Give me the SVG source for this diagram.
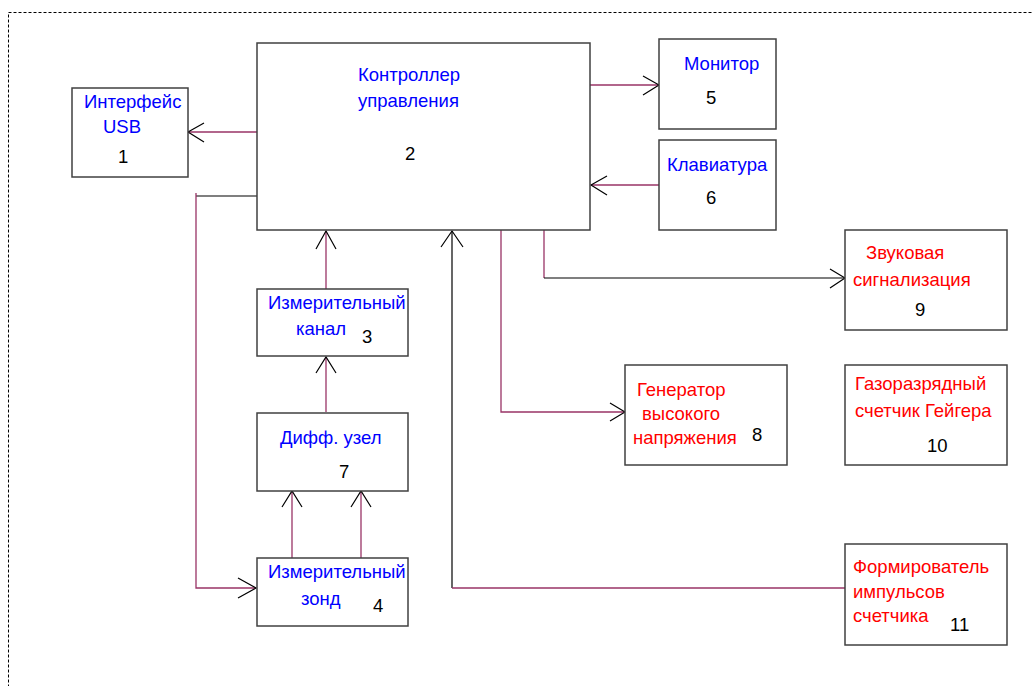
<svg xmlns="http://www.w3.org/2000/svg" width="1033" height="686" viewBox="0 0 1033 686">
<style>
.box{fill:#fff;stroke:#404040;stroke-width:1.5}
.t{font-family:"Liberation Sans",Arial,sans-serif;font-size:18.5px}
.b{fill:#0000ff}
.r{fill:#ff0000}
.n{fill:#000}
.w{fill:none;stroke:#993366;stroke-width:1.3}
.k{fill:none;stroke:#000;stroke-width:1.2}
.ah{fill:none;stroke:#000;stroke-width:1.2}
</style>
<rect x="8.5" y="12.5" width="1040" height="690" fill="none" stroke="#000" stroke-width="1" stroke-dasharray="3,2"/>
<g id="connectors">
  <path class="w" d="M257 132 H188"/><path class="ah" d="M204 123 L188 132 L204 142"/>
  <path class="k" d="M196 196 H261"/>
  <path class="w" d="M196 193 V588 H256"/><path class="ah" d="M238 578 L256 588 L238 598"/>
  <path class="w" d="M326 289 V231"/><path class="ah" d="M316 249 L326 231 L336 249"/>
  <path class="w" d="M326 412 V357"/><path class="ah" d="M316 373 L326 357 L336 373"/>
  <path class="w" d="M292 558 V491"/><path class="ah" d="M282 507 L292 491 L302 507"/>
  <path class="w" d="M361 558 V491"/><path class="ah" d="M351 507 L361 491 L371 507"/>
  <path class="k" d="M452 588 V231"/><path class="ah" d="M441 247 L452 231 L463 247"/>
  <path class="w" d="M452 588 H845"/>
  <path class="w" d="M501 230 V412 H624"/><path class="ah" d="M610 403 L625 412 L610 421"/>
  <path class="w" d="M544 230 V278"/><path class="k" d="M544 278 H844"/><path class="ah" d="M830 269 L845 278 L830 288"/>
  <path class="w" d="M590 85 H658"/><path class="ah" d="M643 76 L659 85 L643 95"/>
  <path class="w" d="M659 185 H591"/><path class="ah" d="M607 176 L591 185 L607 195"/>
</g>
<g id="n1"><rect class="box" x="72" y="88" width="116" height="89"/>
<text class="t b" x="84" y="108">Интерфейс</text><text class="t b" x="103" y="133">USB</text><text class="t n" x="118" y="163">1</text></g>
<g id="n2"><rect class="box" x="257" y="43" width="333" height="187"/>
<text class="t b" x="358" y="81">Контроллер</text><text class="t b" x="358" y="107">управления</text><text class="t n" x="405" y="160">2</text></g>
<g id="n5"><rect class="box" x="659" y="39" width="117" height="90"/>
<text class="t b" x="684" y="70">Монитор</text><text class="t n" x="706" y="104">5</text></g>
<g id="n6"><rect class="box" x="659" y="140" width="117" height="90"/>
<text class="t b" x="667" y="171">Клавиатура</text><text class="t n" x="706" y="204">6</text></g>
<g id="n3"><rect class="box" x="257" y="289" width="151" height="67"/>
<text class="t b" x="268" y="309">Измерительный</text><text class="t b" x="296" y="335">канал</text><text class="t n" x="362" y="343">3</text></g>
<g id="n7"><rect class="box" x="257" y="413" width="151" height="78"/>
<text class="t b" x="280" y="444">Дифф. узел</text><text class="t n" x="339" y="478">7</text></g>
<g id="n4"><rect class="box" x="257" y="558" width="151" height="68"/>
<text class="t b" x="268" y="578">Измерительный</text><text class="t b" x="301" y="605">зонд</text><text class="t n" x="373" y="612">4</text></g>
<g id="n9"><rect class="box" x="845" y="230" width="162" height="100"/>
<text class="t r" x="866" y="259">Звуковая</text><text class="t r" x="853" y="286">сигнализация</text><text class="t n" x="915" y="316">9</text></g>
<g id="n8"><rect class="box" x="625" y="365" width="162" height="100"/>
<text class="t r" x="637" y="396">Генератор</text><text class="t r" x="642" y="420">высокого</text><text class="t r" x="633" y="444">напряжения</text><text class="t n" x="752" y="441">8</text></g>
<g id="n10"><rect class="box" x="845" y="365" width="162" height="100"/>
<text class="t r" x="855" y="390">Газоразрядный</text><text class="t r" x="855" y="417">счетчик Гейгера</text><text class="t n" x="927" y="452">10</text></g>
<g id="n11"><rect class="box" x="845" y="544" width="162" height="101"/>
<text class="t r" x="853" y="573">Формирователь</text><text class="t r" x="853" y="598">импульсов</text><text class="t r" x="853" y="622">счетчика</text><text class="t n" x="950" y="631">11</text></g>
</svg>
